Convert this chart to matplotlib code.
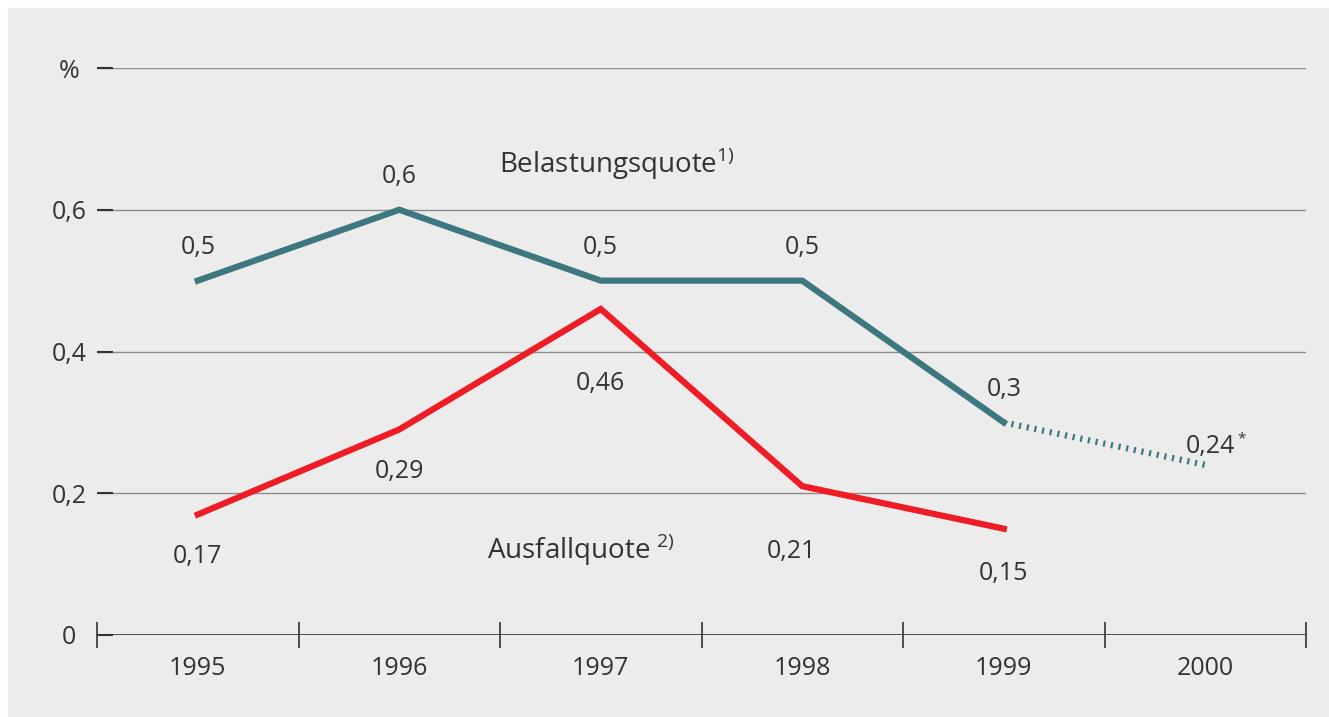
import matplotlib.pyplot as plt
from matplotlib.patches import Rectangle

plt.rcParams['font.family'] = ['Open Sans', 'DejaVu Sans']

# data
years = ["1995", "1996", "1997", "1998", "1999", "2000"]
belastung = [0.5, 0.6, 0.5, 0.5, 0.3]
belastung_est = [0.3, 0.24]
ausfall = [0.17, 0.29, 0.46, 0.21, 0.15]
belastung_labels = ["0,5", "0,6", "0,5", "0,5", "0,3"]
ausfall_labels = ["0,17", "0,29", "0,46", "0,21", "0,15"]
yticks = [0, 0.2, 0.4, 0.6, 0.8]
ytick_labels = ["0", "0,2", "0,4", "0,6", "%"]

teal = "#3d7780"
red = "#ee1c25"
txt = "#333333"

fig = plt.figure(figsize=(13.29, 7.17), dpi=100)
fig.patch.set_facecolor("white")
fig.patches.append(Rectangle((8 / 1329, 0), 1 - 8 / 1329, 1 - 8 / 717,
                             transform=fig.transFigure, color="#ececec", zorder=-10))

ax = fig.add_axes([97 / 1329, 1 - 635 / 717, (1306 - 97) / 1329, (635 - 68) / 717])
ax.set_facecolor("none")
ax.set_xlim(-0.5, 5.5)
ax.set_ylim(0, 0.8)
for s in ax.spines.values():
    s.set_visible(False)

# grid lines
for y in yticks[1:]:
    ax.axhline(y, color="#8c8c8c", lw=1.0, zorder=1)
ax.axhline(0, color="#333333", lw=1.2, zorder=1)

# y ticks
ax.set_yticks(yticks)
ax.set_yticklabels(ytick_labels, ha="center")
ax.tick_params(axis="y", direction="in", length=11.5, width=1.5, color="#333333",
               pad=20, labelsize=18, labelcolor=txt)

# x ticks at category boundaries, labels at centers
xs = list(range(len(years)))
ax.set_xticks([x - 0.5 for x in xs] + [len(years) - 0.5])
ax.set_xticklabels([])
ax.tick_params(axis="x", which="major", direction="inout", length=19, width=1.2,
               color="#333333")
ax.set_xticks(xs, minor=True)
ax.set_xticklabels(years, minor=True)
ax.tick_params(axis="x", which="minor", length=0, pad=15, labelsize=18, labelcolor=txt)

# lines
ax.plot(xs[:5], belastung, color=teal, lw=4.5, solid_joinstyle="miter", zorder=3)
ax.plot(xs[4:6], belastung_est, color=teal, lw=4.5, linestyle=(0, (0.35, 0.9)), zorder=3)
ax.plot(xs[:5], ausfall, color=red, lw=4.5, solid_joinstyle="miter", zorder=3)

# value labels
for x, v, lab in zip(xs, belastung, belastung_labels):
    ax.annotate(lab, (x, v), xytext=(0, 15), textcoords="offset points",
                ha="center", va="bottom", fontsize=18, color=txt)
ax.annotate("0,24", (5, 0.24), xytext=(4, 13), textcoords="offset points",
            ha="center", va="center", fontsize=18, color=txt)
ax.annotate("*", (5, 0.24), xytext=(26, 19), textcoords="offset points",
            ha="center", va="center", fontsize=11, color=txt)

offsets = [(0, -30), (0, -30), (0, -54), (-8, -47), (0, -32)]
for x, v, lab, off in zip(xs, ausfall, ausfall_labels, offsets):
    ax.annotate(lab, (x, v), xytext=off, textcoords="offset points",
                ha="center", va="center", fontsize=18, color=txt)

# series names
ax.text(2.08, 0.665, r"Belastungsquote$^{\mathregular{1)}}$", ha="center", va="center",
        fontsize=20, color=txt)
ax.text(1.9, 0.12, r"Ausfallquote$^{\mathregular{\ 2)}}$", ha="center", va="center",
        fontsize=20, color=txt)

fig.savefig("out.png", dpi=100)
